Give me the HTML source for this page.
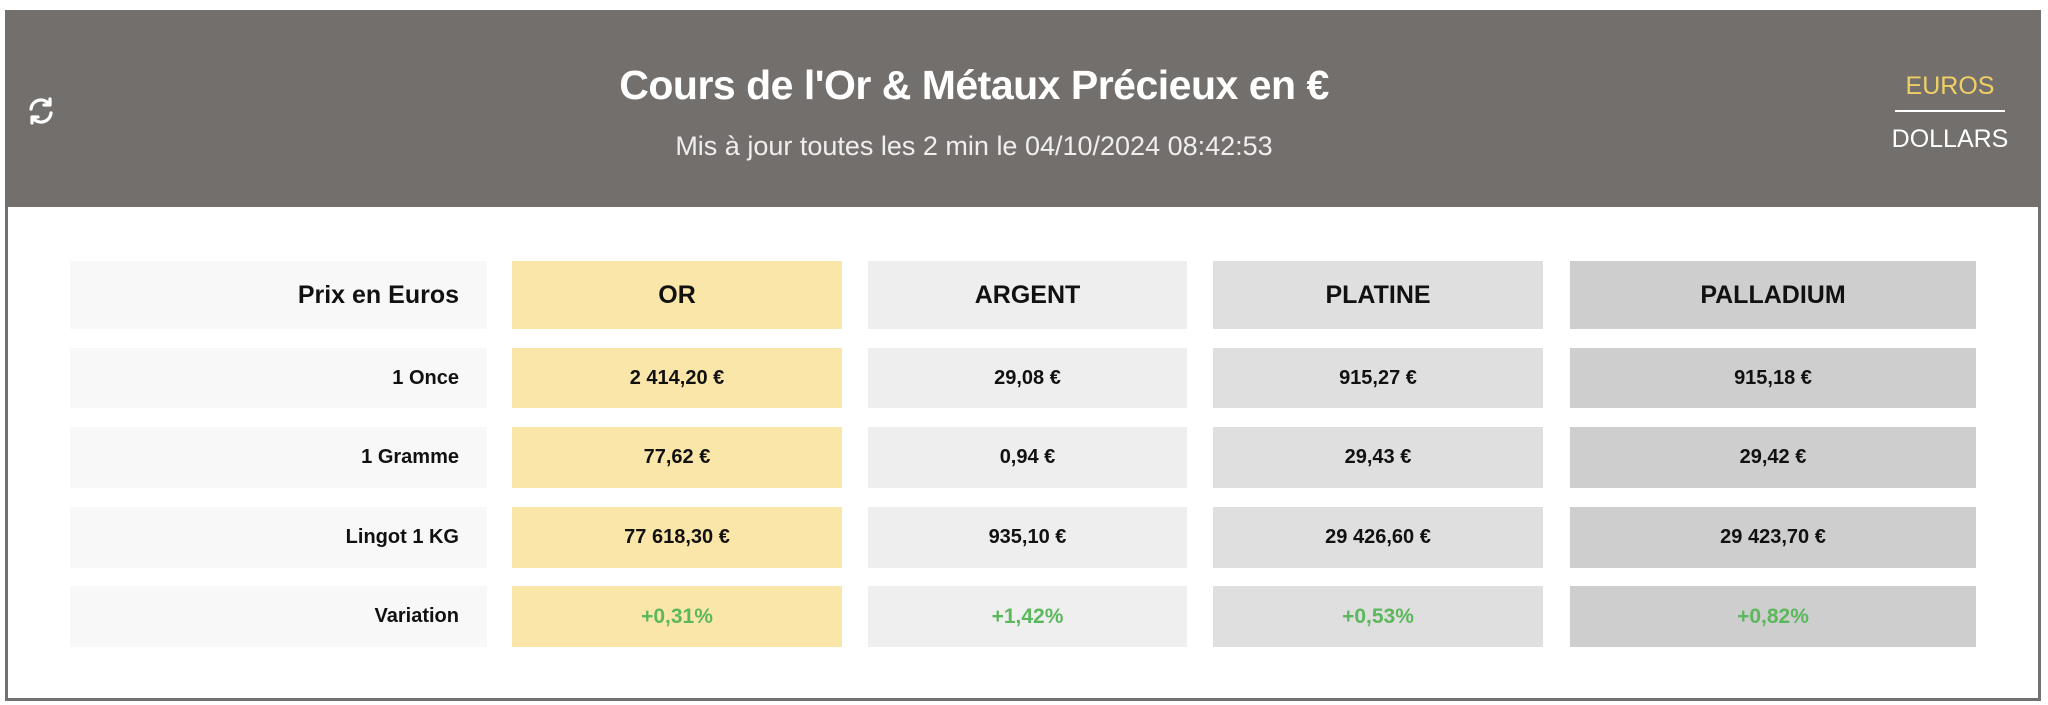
<!DOCTYPE html>
<html><head><meta charset="utf-8"><style>
*{margin:0;padding:0;box-sizing:border-box}
body{width:2048px;height:705px;background:#fff;font-family:"Liberation Sans",sans-serif;position:relative;overflow:hidden}
.frame{position:absolute;left:5px;top:10px;width:2036px;height:691px;border:3px solid #737070;background:#fff}
.head{position:absolute;left:5px;top:10px;width:2036px;height:197px;background:#736f6d}
.title{position:absolute;left:0;width:1948px;top:62px;text-align:center;color:#fff;font-weight:bold;font-size:41px;letter-spacing:-0.5px}
.sub{position:absolute;left:0;width:1948px;top:131px;text-align:center;color:#f0eeee;font-size:27px}
.eur{position:absolute;left:1895px;width:110px;top:72px;text-align:center;color:#f0d064;font-size:25px}
.line{position:absolute;left:1895px;width:110px;top:110px;height:2px;background:#fff}
.dol{position:absolute;left:1880px;width:140px;top:125px;text-align:center;color:#fff;font-size:25px}
.c{position:absolute;display:flex;align-items:center;justify-content:center;font-weight:bold;font-size:20px;color:#111}
.l{justify-content:flex-end;padding-right:28px;background:#f9f8f8}
.h{font-size:25px}
.g{color:#5cb85c;font-size:21px}
</style></head><body>
<div class="frame"></div>
<div class="head"></div>
<svg style="position:absolute;left:26px;top:96px" width="30" height="30" viewBox="0 0 30 30" fill="none" stroke="#fff" stroke-width="3.2" stroke-linecap="round">
<path d="M5 13 A10 10 0 0 1 23 8"/><path d="M24 3 L24 9 L18 9" stroke-linejoin="round"/>
<path d="M25 17 A10 10 0 0 1 7 22"/><path d="M6 27 L6 21 L12 21" stroke-linejoin="round"/>
</svg>
<div class="title">Cours de l'Or &amp; Métaux Précieux en €</div>
<div class="sub">Mis à jour toutes les 2 min le 04/10/2024 08:42:53</div>
<div class="eur">EUROS</div><div class="line"></div><div class="dol">DOLLARS</div>

<div id="t"></div>
<script>
var rows=[[261,329],[348,408],[427,488],[507,568],[586,647]];
var cols=[[70,487,'#f9f8f8'],[512,842,'#fbe6a9'],[868,1187,'#efeeee'],[1213,1543,'#e0dfdf'],[1570,1976,'#cfcece']];
var data=[["Prix en Euros","OR","ARGENT","PLATINE","PALLADIUM"],
["1 Once","2 414,20 €","29,08 €","915,27 €","915,18 €"],
["1 Gramme","77,62 €","0,94 €","29,43 €","29,42 €"],
["Lingot 1 KG","77 618,30 €","935,10 €","29 426,60 €","29 423,70 €"],
["Variation","+0,31%","+1,42%","+0,53%","+0,82%"]];
var h='';
for(var r=0;r<5;r++)for(var c=0;c<5;c++){
var cls='c'+(c==0?' l':'')+(r==0?' h':'')+(r==4&&c>0?' g':'');
var bg=cols[c][2]; if(r==4&&c==2)bg='#f0eff0';
h+='<div class="'+cls+'" style="left:'+cols[c][0]+'px;width:'+(cols[c][1]-cols[c][0])+'px;top:'+rows[r][0]+'px;height:'+(rows[r][1]-rows[r][0])+'px;background:'+bg+'">'+data[r][c]+'</div>';}
document.getElementById('t').innerHTML=h;
</script>
</body></html>
